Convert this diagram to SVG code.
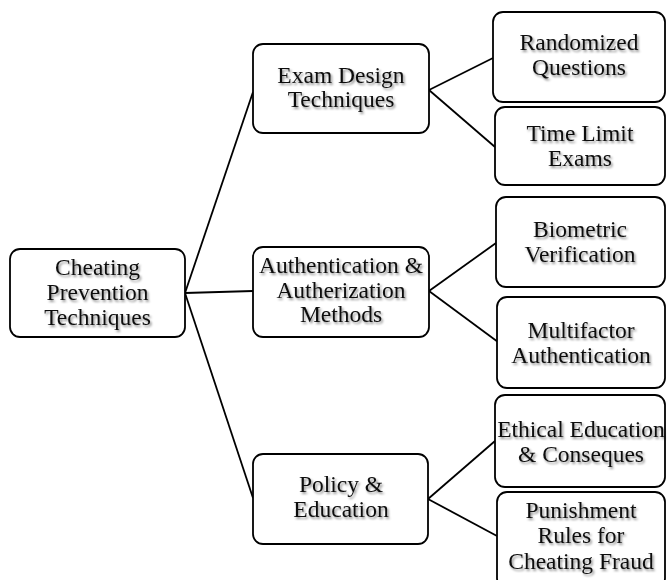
<svg xmlns="http://www.w3.org/2000/svg" width="667" height="580" viewBox="0 0 667 580">
<defs>
<filter id="sh" x="-10%" y="-20%" width="130%" height="150%">
<feDropShadow dx="1.5" dy="2" stdDeviation="1" flood-color="#000" flood-opacity="0.45"/>
</filter>
<style>
.box{fill:#fff;stroke:#000;stroke-width:1.8}
.t{font-family:"Liberation Serif","Times New Roman",serif;font-size:23.5px;fill:#111;text-anchor:middle;filter:url(#sh)}
.c{stroke:#000;stroke-width:1.8;fill:none}
</style>
</defs>
<rect width="667" height="580" fill="#fff"/>
<g id="connectors">
<line class="c" x1="185" y1="293" x2="253" y2="92"/>
<line class="c" x1="185" y1="293" x2="253" y2="291"/>
<line class="c" x1="185" y1="293" x2="253" y2="498"/>
<line class="c" x1="429" y1="90" x2="493" y2="58"/>
<line class="c" x1="429" y1="90" x2="495" y2="147"/>
<line class="c" x1="429" y1="291" x2="496" y2="243"/>
<line class="c" x1="429" y1="291" x2="498" y2="342"/>
<line class="c" x1="428" y1="499" x2="495" y2="441"/>
<line class="c" x1="428" y1="499" x2="497" y2="536"/>
</g>
<g id="root">
<rect class="box" x="10" y="249" width="175" height="88" rx="10"/>
<text class="t" x="97.5" y="275">Cheating</text>
<text class="t" x="97.5" y="300">Prevention</text>
<text class="t" x="97.5" y="325">Techniques</text>
</g>
<g id="exam">
<rect class="box" x="253" y="44" width="176" height="89" rx="10"/>
<text class="t" x="341" y="83">Exam Design</text>
<text class="t" x="341" y="107">Techniques</text>
</g>
<g id="auth">
<rect class="box" x="253" y="247" width="176" height="90" rx="10"/>
<text class="t" x="341" y="273">Authentication &amp;</text>
<text class="t" x="341" y="298">Autherization</text>
<text class="t" x="341" y="322">Methods</text>
</g>
<g id="policy">
<rect class="box" x="253" y="454" width="175" height="90" rx="10"/>
<text class="t" x="341" y="492">Policy &amp;</text>
<text class="t" x="341" y="517">Education</text>
</g>
<g id="randomized">
<rect class="box" x="493" y="12" width="172" height="90" rx="10"/>
<text class="t" x="579" y="50">Randomized</text>
<text class="t" x="579" y="75">Questions</text>
</g>
<g id="timelimit">
<rect class="box" x="495" y="107" width="170" height="78" rx="10"/>
<text class="t" x="580" y="141">Time Limit</text>
<text class="t" x="580" y="166">Exams</text>
</g>
<g id="biometric">
<rect class="box" x="496" y="197" width="169" height="90" rx="10"/>
<text class="t" x="580" y="237">Biometric</text>
<text class="t" x="580" y="262">Verification</text>
</g>
<g id="multifactor">
<rect class="box" x="497" y="297" width="168" height="91" rx="10"/>
<text class="t" x="581" y="338">Multifactor</text>
<text class="t" x="581" y="363">Authentication</text>
</g>
<g id="ethical">
<rect class="box" x="495" y="395" width="170" height="92" rx="10"/>
<text class="t" x="581" y="437">Ethical Education</text>
<text class="t" x="581" y="462">&amp; Conseques</text>
</g>
<g id="punishment">
<rect class="box" x="497" y="492" width="168" height="96" rx="10"/>
<text class="t" x="581" y="518">Punishment</text>
<text class="t" x="581" y="543">Rules for</text>
<text class="t" x="581" y="569">Cheating Fraud</text>
</g>
</svg>
